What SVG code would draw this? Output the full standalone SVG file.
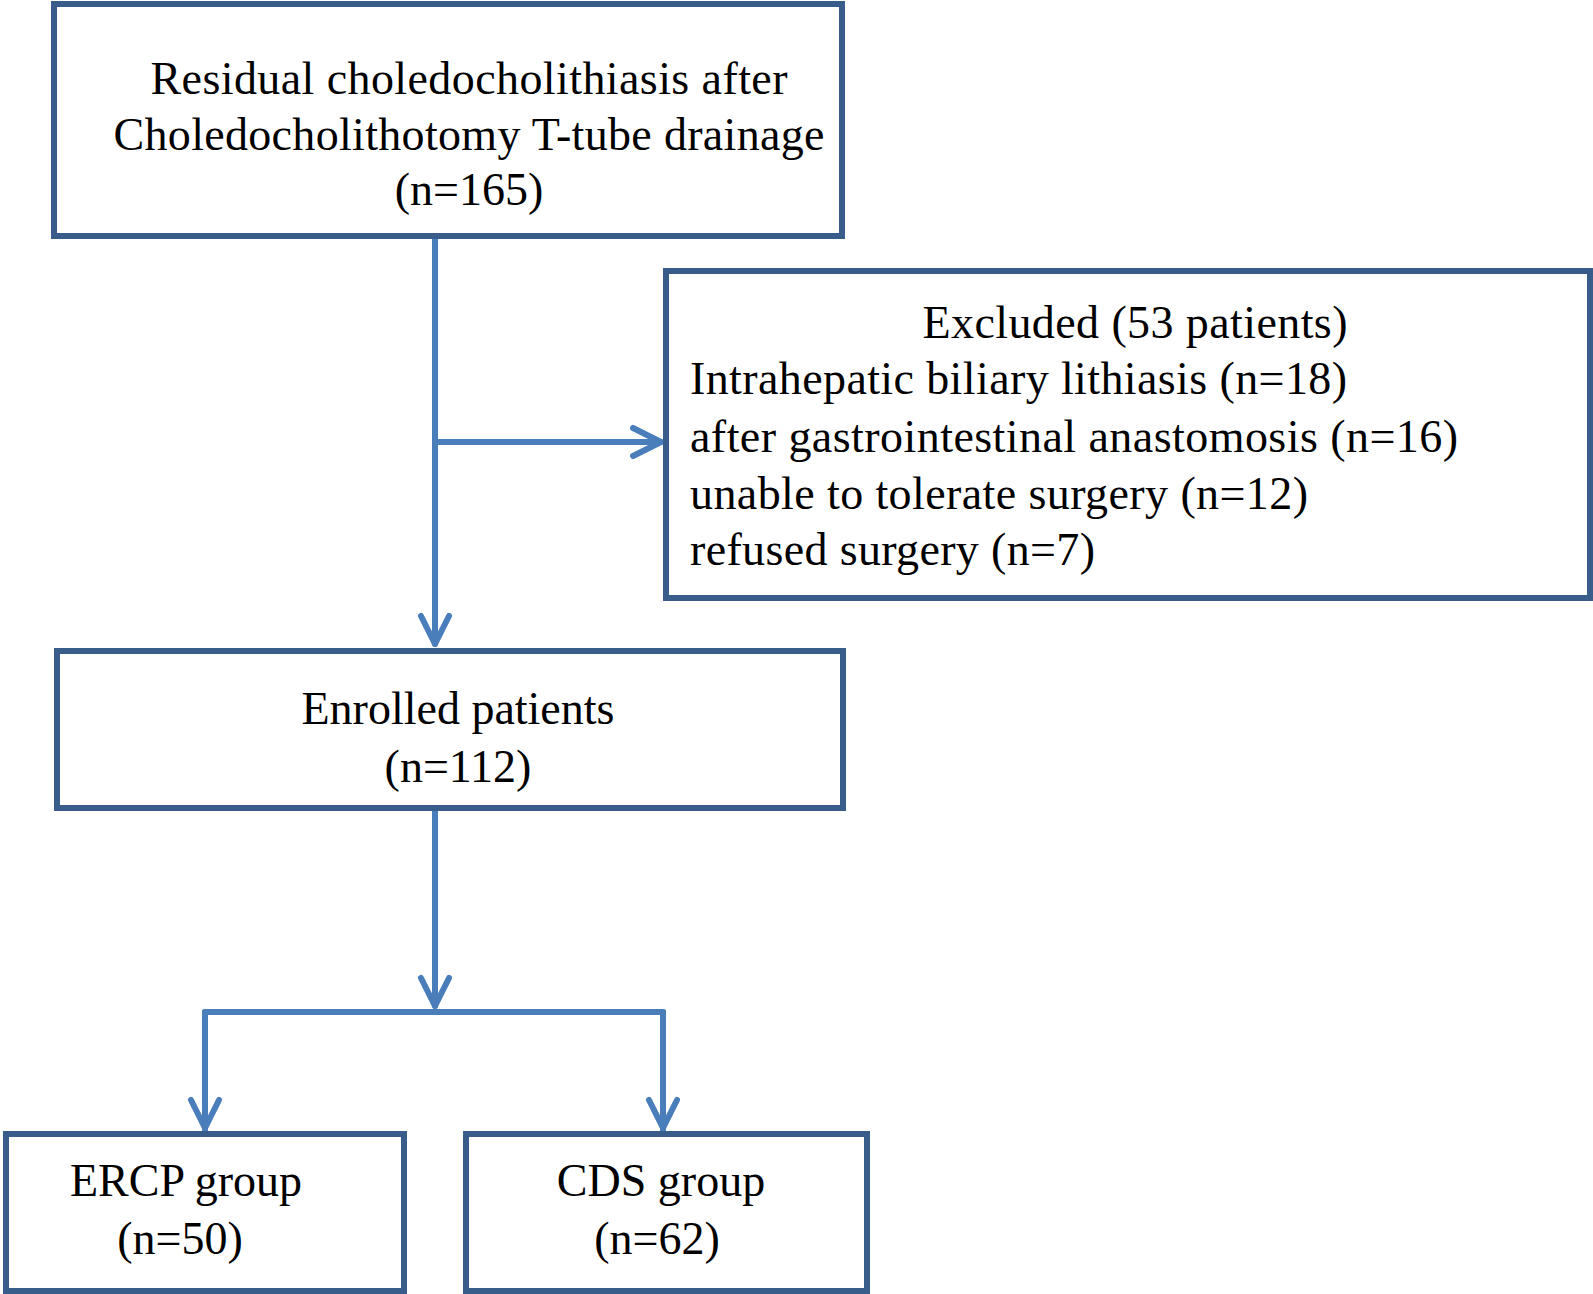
<svg xmlns="http://www.w3.org/2000/svg" width="1593" height="1294" viewBox="0 0 1593 1294">
<style>
.box{fill:#fff;stroke:#385d8a;stroke-width:6}
.t{font-family:"Liberation Serif","Times New Roman",serif;font-size:46px;fill:#000}
.c{text-anchor:middle}
.con{fill:none;stroke:#4a7ebb;stroke-width:6;stroke-linecap:round;stroke-linejoin:round}
</style>
<defs>
<marker id="ah" markerUnits="userSpaceOnUse" markerWidth="40" markerHeight="40" viewBox="-34 -20 40 40" refX="0" refY="0" orient="auto">
<path d="M-28 -14 L0 0 L-28 14" fill="none" stroke="#4a7ebb" stroke-width="6" stroke-linecap="round" stroke-linejoin="round"/>
</marker>
</defs>
<rect width="1593" height="1294" fill="#fff"/>
<g id="connectors">
<path class="con" d="M435 236 V644" marker-end="url(#ah)"/>
<path class="con" d="M435 442 H661" marker-end="url(#ah)"/>
<path class="con" d="M435 808 V1006" marker-end="url(#ah)"/>
<path class="con" d="M205 1130 V1012 H663 V1130"/>
<path class="con" d="M205 1012 V1128" marker-end="url(#ah)"/>
<path class="con" d="M663 1012 V1128" marker-end="url(#ah)"/>
</g>
<g id="n1">
<rect class="box" x="54" y="4" width="788" height="232"/>
<text class="t" x="469" y="94" textLength="637" lengthAdjust="spacing" text-anchor="middle">Residual choledocholithiasis after</text>
<text class="t" x="469" y="150" textLength="711" lengthAdjust="spacing" text-anchor="middle">Choledocholithotomy T-tube drainage</text>
<text class="t c" x="469" y="205">(n=165)</text>
</g>
<g id="n2">
<rect class="box" x="666" y="271" width="924" height="327"/>
<text class="t c" x="1135" y="338" textLength="425" lengthAdjust="spacing">Excluded (53 patients)</text>
<text class="t" x="690" y="394" textLength="657" lengthAdjust="spacing">Intrahepatic biliary lithiasis (n=18)</text>
<text class="t" x="690" y="452" textLength="768" lengthAdjust="spacing">after gastrointestinal anastomosis (n=16)</text>
<text class="t" x="690" y="509" textLength="618" lengthAdjust="spacing">unable to tolerate surgery (n=12)</text>
<text class="t" x="690" y="565" textLength="405" lengthAdjust="spacing">refused surgery (n=7)</text>
</g>
<g id="n3">
<rect class="box" x="57" y="651" width="786" height="157"/>
<text class="t c" x="458" y="724">Enrolled patients</text>
<text class="t c" x="458" y="782">(n=112)</text>
</g>
<g id="n4">
<rect class="box" x="6" y="1134" width="398" height="157"/>
<text class="t c" x="186" y="1196">ERCP group</text>
<text class="t c" x="180" y="1254">(n=50)</text>
</g>
<g id="n5">
<rect class="box" x="466" y="1134" width="401" height="157"/>
<text class="t c" x="661" y="1196">CDS group</text>
<text class="t c" x="657" y="1254">(n=62)</text>
</g>
</svg>
